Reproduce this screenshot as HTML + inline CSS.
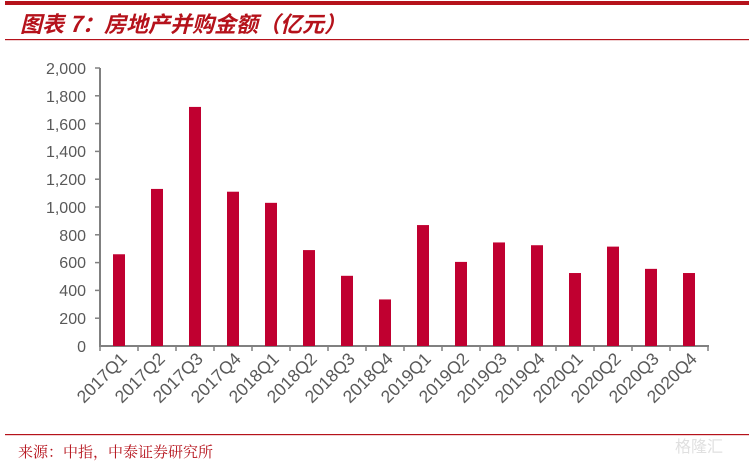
<!DOCTYPE html>
<html><head><meta charset="utf-8"><style>
html,body{margin:0;padding:0;background:#fff;}
svg{display:block}
</style></head><body>
<svg width="749" height="463" viewBox="0 0 749 463" xmlns="http://www.w3.org/2000/svg">
<rect x="5" y="1" width="744" height="4" fill="#B5121B"/>
<text x="20" y="32" font-family="'Noto Sans CJK SC',sans-serif" font-style="italic" font-weight="bold" font-size="22" fill="#B5121B">图表 7：房地产并购金额（亿元）</text>
<rect x="5" y="39" width="744" height="1.2" fill="#B5121B"/>
<g stroke="#808080" stroke-width="2" fill="none">
<line x1="100" y1="68" x2="100" y2="346"/>
<line x1="99" y1="346" x2="709" y2="346"/>
</g>
<g stroke="#808080" stroke-width="1.5">
<line x1="95" y1="68" x2="100" y2="68"/><line x1="95" y1="95.8" x2="100" y2="95.8"/><line x1="95" y1="123.6" x2="100" y2="123.6"/><line x1="95" y1="151.4" x2="100" y2="151.4"/><line x1="95" y1="179.2" x2="100" y2="179.2"/><line x1="95" y1="207" x2="100" y2="207"/><line x1="95" y1="234.8" x2="100" y2="234.8"/><line x1="95" y1="262.6" x2="100" y2="262.6"/><line x1="95" y1="290.4" x2="100" y2="290.4"/><line x1="95" y1="318.2" x2="100" y2="318.2"/>
</g>
<g font-family="'Liberation Sans',sans-serif" font-size="16" fill="#595959" text-anchor="end">
<text x="86" y="74">2,000</text><text x="86" y="102">1,800</text><text x="86" y="130">1,600</text><text x="86" y="157">1,400</text><text x="86" y="185">1,200</text><text x="86" y="213">1,000</text><text x="86" y="241">800</text><text x="86" y="268">600</text><text x="86" y="296">400</text><text x="86" y="324">200</text><text x="86" y="352">0</text>
</g>
<g id="bars" fill="#C00030"></g>
<g id="ticks" stroke="#808080" stroke-width="1.5"></g>
<g id="labels" font-family="'Liberation Sans',sans-serif" font-size="17.5" fill="#595959" text-anchor="end"></g>
<rect x="5" y="434" width="744" height="1.2" fill="#B5121B"/>
<text x="18" y="457" font-family="'Noto Serif CJK SC','Noto Sans CJK SC',serif" font-size="15" fill="#B5121B">来源：中指，中泰证券研究所</text>
<text x="675" y="452" font-family="'Noto Sans CJK SC',sans-serif" font-size="16" fill="#e0e0e0">格隆汇</text>
<script>
var v=[660,1130,1720,1110,1030,690,505,335,870,605,745,725,525,715,555,525];
var n=["2017Q1","2017Q2","2017Q3","2017Q4","2018Q1","2018Q2","2018Q3","2018Q4","2019Q1","2019Q2","2019Q3","2019Q4","2020Q1","2020Q2","2020Q3","2020Q4"];
var ns="http://www.w3.org/2000/svg",b=document.getElementById("bars"),t=document.getElementById("ticks"),l=document.getElementById("labels");
for(var i=0;i<16;i++){var c=119+i*38,h=v[i]*0.139;
var r=document.createElementNS(ns,"rect");r.setAttribute("x",c-6);r.setAttribute("y",346-h);r.setAttribute("width",12);r.setAttribute("height",h);b.appendChild(r);
var k=document.createElementNS(ns,"line");k.setAttribute("x1",100+i*38);k.setAttribute("x2",100+i*38);k.setAttribute("y1",346);k.setAttribute("y2",351);t.appendChild(k);
var tx=document.createElementNS(ns,"text");tx.setAttribute("transform","translate("+(c+9)+",360) rotate(-45)");tx.textContent=n[i];l.appendChild(tx);}
var k=document.createElementNS(ns,"line");k.setAttribute("x1",708);k.setAttribute("x2",708);k.setAttribute("y1",346);k.setAttribute("y2",351);t.appendChild(k);
</script>
</svg>
</body></html>
